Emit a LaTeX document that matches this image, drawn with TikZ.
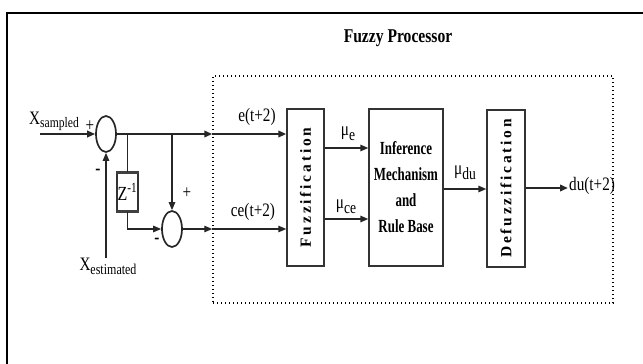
\documentclass[tikz,border=0pt]{standalone}
\usepackage{fontspec}
\setmainfont{Liberation Serif}[FakeStretch=0.8]
\newfontfamily\infont{Liberation Serif}[FakeStretch=0.7]
\newfontfamily\spfont{Liberation Serif}[LetterSpace=18]
\usetikzlibrary{arrows.meta,shapes.geometric,calc}
\begin{document}
\begin{tikzpicture}[x=1pt,y=-1pt,
  >={Triangle[length=8pt,width=6.5pt]},
  sig/.style={line width=1.3pt, draw=black!85},
  thk/.style={line width=2pt, draw=black!85},
  sumnode/.style={ellipse, draw=black!85, line width=1.7pt, minimum width=20pt, minimum height=36pt, inner sep=0pt},
  blk/.style={draw=black!80, line width=1.4pt, inner sep=0pt},
  lbl/.style={font=\fontsize{19}{19}\selectfont, inner sep=0pt},
  vtxt/.style={rotate=90, font=\spfont\bfseries\fontsize{15.5}{15.5}\selectfont, inner sep=0pt},
  sgn/.style={font=\fontsize{19}{19}\selectfont, inner sep=0pt}
]
\useasboundingbox (0,0) rectangle (643,364);
% outer frame
\draw[line width=2.2pt] (7,364) -- (7,13) -- (643,13);
% fuzzy processor dotted box
\node[draw, line width=1.5pt, dash pattern=on 1.3pt off 2.7pt, minimum width=400pt, minimum height=227pt, inner sep=0pt] (fp) at (413,189.5) {};
\node[font=\bfseries\fontsize{19.5}{19.5}\selectfont, inner sep=0pt] (title) at (398,38) {Fuzzy Processor};
% summing junctions
\node[sumnode] (s1) at (106,134) {};
\node[sumnode] (s2) at (172,229) {};
% delay
\node[draw=black!80, line width=1.3pt, minimum width=21pt, minimum height=38pt, inner sep=0pt, font=\fontsize{20}{20}\selectfont] (z) at (127.5,192) {Z\textsuperscript{-1}};
\draw[line width=2.6pt, draw=black!75] (z.north west) -- (z.north east);
\draw[line width=2.6pt, draw=black!75] (z.south west) -- (z.south east);
% blocks
\node[blk, minimum width=37pt, minimum height=157pt] (fz) at (305.5,187.5) {};
\node[vtxt] (fzt) at (fz.center) {Fuzzification};
\node[blk, minimum width=74pt, minimum height=157pt, align=center, font=\infont\bfseries\fontsize{18.5}{26}\selectfont] (inf) at (406,187.5) {Inference\\Mechanism\\and\\Rule Base};
\node[blk, minimum width=38pt, minimum height=157pt] (dfz) at (506,188.5) {};
\node[vtxt] (dfzt) at (dfz.center) {Defuzzification};
% coordinates
\coordinate (in) at (40,134);
\coordinate (d1) at (fp.west |- s1.east);
\coordinate (d2) at (fp.west |- s2.east);
\coordinate (j1) at (z.north |- s1.east);
\coordinate (j2) at (s2.north |- s1.east);
\coordinate (out) at (568,188);
% input labels
\node[lbl, anchor=west] (xs) at (29,121) {X\raisebox{-3pt}{\fontsize{14.5}{14.5}\selectfont sampled}};
\node[sgn] (p1) at (90,126) {+};
\node[sgn, font=\bfseries\fontsize{19}{19}\selectfont] (m1) at (98,172) {-};
\node[lbl, anchor=north] (xe) at (108,258) {X\raisebox{-4pt}{\fontsize{15}{15}\selectfont estimated}};
\node[sgn] (p2) at (187,193) {+};
\node[sgn, font=\bfseries\fontsize{19}{19}\selectfont] (m2) at (157,241) {-};
% connectors
\draw[thk,->] (in) -- (s1.west);
\draw[sig,->] (xe.north -| s1.south) -- (s1.south);
\draw[thk,->] (s1.east) -- (d1);
\draw[thk,->] (d1) -- (d1 -| fz.west);
\draw[sig] (j1) -- (z.north);
\draw[sig,->] (z.south) |- (s2.west);
\draw[sig,->] (j2) -- (s2.north);
\draw[sig,->] (s2.east) -- (d2);
\draw[sig,->] (d2) -- (d2 -| fz.west);
\draw[line width=1.6pt, draw=black!85, ->] ($(fz.east)+(0,-39.5)$) coordinate (me1) -- ($(inf.west)+(0,-39.5)$) coordinate (me2);
\draw[line width=1.6pt, draw=black!85, ->] ($(fz.east)+(0,31.5)$) coordinate (mc1) -- ($(inf.west)+(0,31.5)$) coordinate (mc2);
\draw[line width=1.6pt, draw=black!85, ->] ($(inf.east)+(0,1.5)$) coordinate (md1) -- ($(dfz.west)+(0,0.5)$) coordinate (md2);
\draw[line width=2.6pt, draw=black!85, ->] ($(dfz.east)+(0,-0.5)$) -- (out);
% signal labels
\node[lbl] (le) at (257,117) {e(t+2)};
\node[lbl] (lce) at (253,212) {ce(t+2)};
\node[lbl] (lme) at (348,134) {μ\raisebox{-5pt}{\fontsize{17}{17}\selectfont e}};
\node[lbl] (lmc) at (346,207) {μ\raisebox{-5pt}{\fontsize{17}{17}\selectfont ce}};
\node[lbl] (lmd) at (465,173) {μ\raisebox{-5pt}{\fontsize{17}{17}\selectfont du}};
\node[lbl, anchor=west] (ldu) at (569,186) {du(t+2)};
\end{tikzpicture}
\end{document}
